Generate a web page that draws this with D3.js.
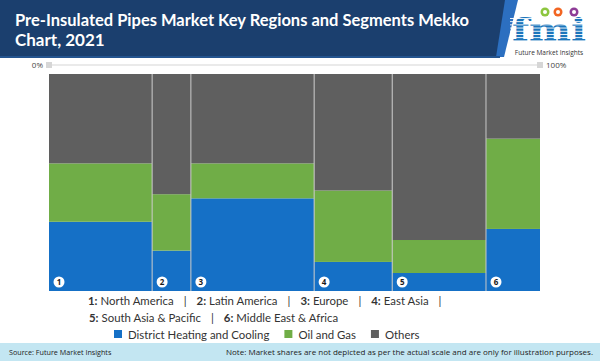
<!DOCTYPE html>
<html><head><meta charset="utf-8">
<script src="https://cdn.jsdelivr.net/npm/d3@7/dist/d3.min.js"></script>
<style>html,body{margin:0;padding:0;background:#fff;}svg{display:block;}</style>
</head><body>
<script>
const regions = ["North America","Latin America","Europe","East Asia","South Asia & Pacific","Middle East & Africa"];
const regionShare = [21.0, 7.9, 25.1, 15.9, 19.1, 11.0];
const segments = ["District Heating and Cooling","Oil and Gas","Others"];
const districtHeating = [31.9, 18.6, 42.7, 13.4, 8.3, 28.6];
const oilGas = [26.9, 26.0, 16.1, 32.9, 15.2, 41.6];
const others = [41.2, 55.4, 41.2, 53.7, 76.5, 29.8];
const axisLabels = ["0%","100%"];
const colors = ["#1570c6","#70ad47","#5f5f5f"];

const W=600,H=361;
const svg=d3.select("body").append("svg").attr("width",W).attr("height",H);
const font="'Open Sans', sans-serif";
const lfont="Lato, sans-serif";

// header banner
svg.append("polygon").attr("points","0,0 512,0 498,57 0,57").attr("fill","#1b3f6e");
svg.append("polygon").attr("points","505,0 518,0 504,57 496,57").attr("fill","#2c6fc0");
svg.append("rect").attr("x",0).attr("y",56).attr("width",500).attr("height",2).attr("fill","#24548f");
const title=svg.append("text").attr("fill","#fff").attr("font-family",lfont).attr("font-weight","bold").attr("font-size",17);
title.append("tspan").attr("x",15).attr("y",26).attr("textLength",454).attr("lengthAdjust","spacingAndGlyphs").text("Pre-Insulated Pipes Market Key Regions and Segments Mekko");
title.append("tspan").attr("x",15).attr("y",46).text("Chart, 2021");

// logo
const logo=svg.append("g");
logo.append("text").attr("x",549).attr("y",41).attr("text-anchor","middle").attr("font-family","'DejaVu Serif', serif").attr("font-weight","bold").attr("font-size",32).attr("fill","#1b75bb").attr("textLength",74).attr("lengthAdjust","spacingAndGlyphs").text("fmi");
for(let yy=18;yy<42;yy+=3.2){logo.append("rect").attr("x",510).attr("y",yy).attr("width",80).attr("height",0.9).attr("fill","#fff");}
[[545,12,"#8dc63f"],[558,12,"#f26522"],[574,12,"#8e3c97"]].forEach(c=>{
  logo.append("circle").attr("cx",c[0]).attr("cy",c[1]).attr("r",4.5).attr("fill",c[2]);
  logo.append("circle").attr("cx",c[0]).attr("cy",c[1]).attr("r",2).attr("fill","#fff");
});
logo.append("text").attr("x",549).attr("y",55).attr("text-anchor","middle").attr("font-family",font).attr("font-size",6.5).attr("fill","#333").text("Future Market Insights");

// scales
const x=d3.scaleLinear().domain([0,100]).range([49,540]);
const y=d3.scaleLinear().domain([0,100]).range([291,74]);

// top axis
const axisY=65;
svg.append("line").attr("x1",x(0)).attr("x2",x(100)).attr("y1",axisY).attr("y2",axisY).attr("stroke","#e3e3e3").attr("stroke-width",1.5);
[0,100].forEach(v=>svg.append("rect").attr("x",x(v)-3).attr("y",axisY-3).attr("width",6).attr("height",6).attr("fill","#d6d6d6"));
svg.append("text").attr("x",x(0)-6).attr("y",axisY+3).attr("text-anchor","end").attr("font-family",font).attr("font-size",8).attr("fill","#444").text(axisLabels[0]);
svg.append("text").attr("x",x(100)+6).attr("y",axisY+3).attr("text-anchor","start").attr("font-family",font).attr("font-size",8).attr("fill","#444").text(axisLabels[1]);

// data
const starts=[];let acc=0;regionShare.forEach(s=>{starts.push(acc);acc+=s;});
const series=[districtHeating,oilGas,others];
const cols=svg.append("g");
regions.forEach((r,i)=>{
  let base=0;
  series.forEach((s,k)=>{
    cols.append("rect").attr("x",x(starts[i])).attr("width",x(starts[i]+regionShare[i])-x(starts[i]))
      .attr("y",y(base+s[i])).attr("height",y(base)-y(base+s[i])).attr("fill",colors[k]);
    base+=s[i];
  });
});
regions.forEach((r,i)=>{
  if(i>0) cols.append("line").attr("x1",x(starts[i])).attr("x2",x(starts[i])).attr("y1",y(100)).attr("y2",y(0)).attr("stroke","#c8c8c8").attr("stroke-width",1);
  const cx=x(starts[i])+10, cy=282;
  cols.append("circle").attr("cx",cx).attr("cy",cy).attr("r",5.5).attr("fill","#fff");
  cols.append("text").attr("x",cx).attr("y",cy+3).attr("text-anchor","middle").attr("font-family",font).attr("font-weight","bold").attr("font-size",8).attr("fill","#1a1a1a").text(i+1);
});

// region legend, laid out piece by piece
const fs=11.4;
function legendLine(items,yy,trailing,x0){
  const g=svg.append("g");
  let cx=x0;
  items.forEach((idx,j)=>{
    const t=g.append("text").attr("x",cx).attr("y",yy).attr("font-family",lfont).attr("font-size",fs).attr("fill","#333");
    t.append("tspan").attr("font-weight","bold").text((idx+1)+":");
    t.append("tspan").attr("dx",3).text(regions[idx]);
    cx+=t.node().getComputedTextLength()+3+10;
    if(j<items.length-1||trailing){
      const s=g.append("text").attr("x",cx).attr("y",yy).attr("font-family",lfont).attr("font-size",fs).attr("fill","#333").text("|");
      cx+=s.node().getComputedTextLength()+10;
    }
  });
}
legendLine([0,1,2,3],305,true,88);
legendLine([4,5],322,false,89);

// segment legend
const lg=svg.append("g");
let sx=114;
segments.forEach((s,k)=>{
  lg.append("rect").attr("x",sx).attr("y",330).attr("width",8).attr("height",8).attr("fill",colors[k]);
  const t=lg.append("text").attr("x",sx+14).attr("y",338.5).attr("font-family",lfont).attr("font-size",fs).attr("fill","#333").text(s);
  sx+=14+t.node().getComputedTextLength()+15;
});

// footer
svg.append("rect").attr("x",0).attr("y",343).attr("width",W).attr("height",18).attr("fill","#c3e6f2");
svg.append("text").attr("x",9).attr("y",355).attr("font-family",font).attr("font-size",7.2).attr("fill","#222").text("Source: Future Market Insights");
svg.append("text").attr("x",226).attr("y",355).attr("textLength",367).attr("lengthAdjust","spacingAndGlyphs").attr("font-family",font).attr("font-size",7.6).attr("fill","#222").text("Note: Market shares are not depicted as per the actual scale and are only for illustration purposes.");
</script>
</body></html>
